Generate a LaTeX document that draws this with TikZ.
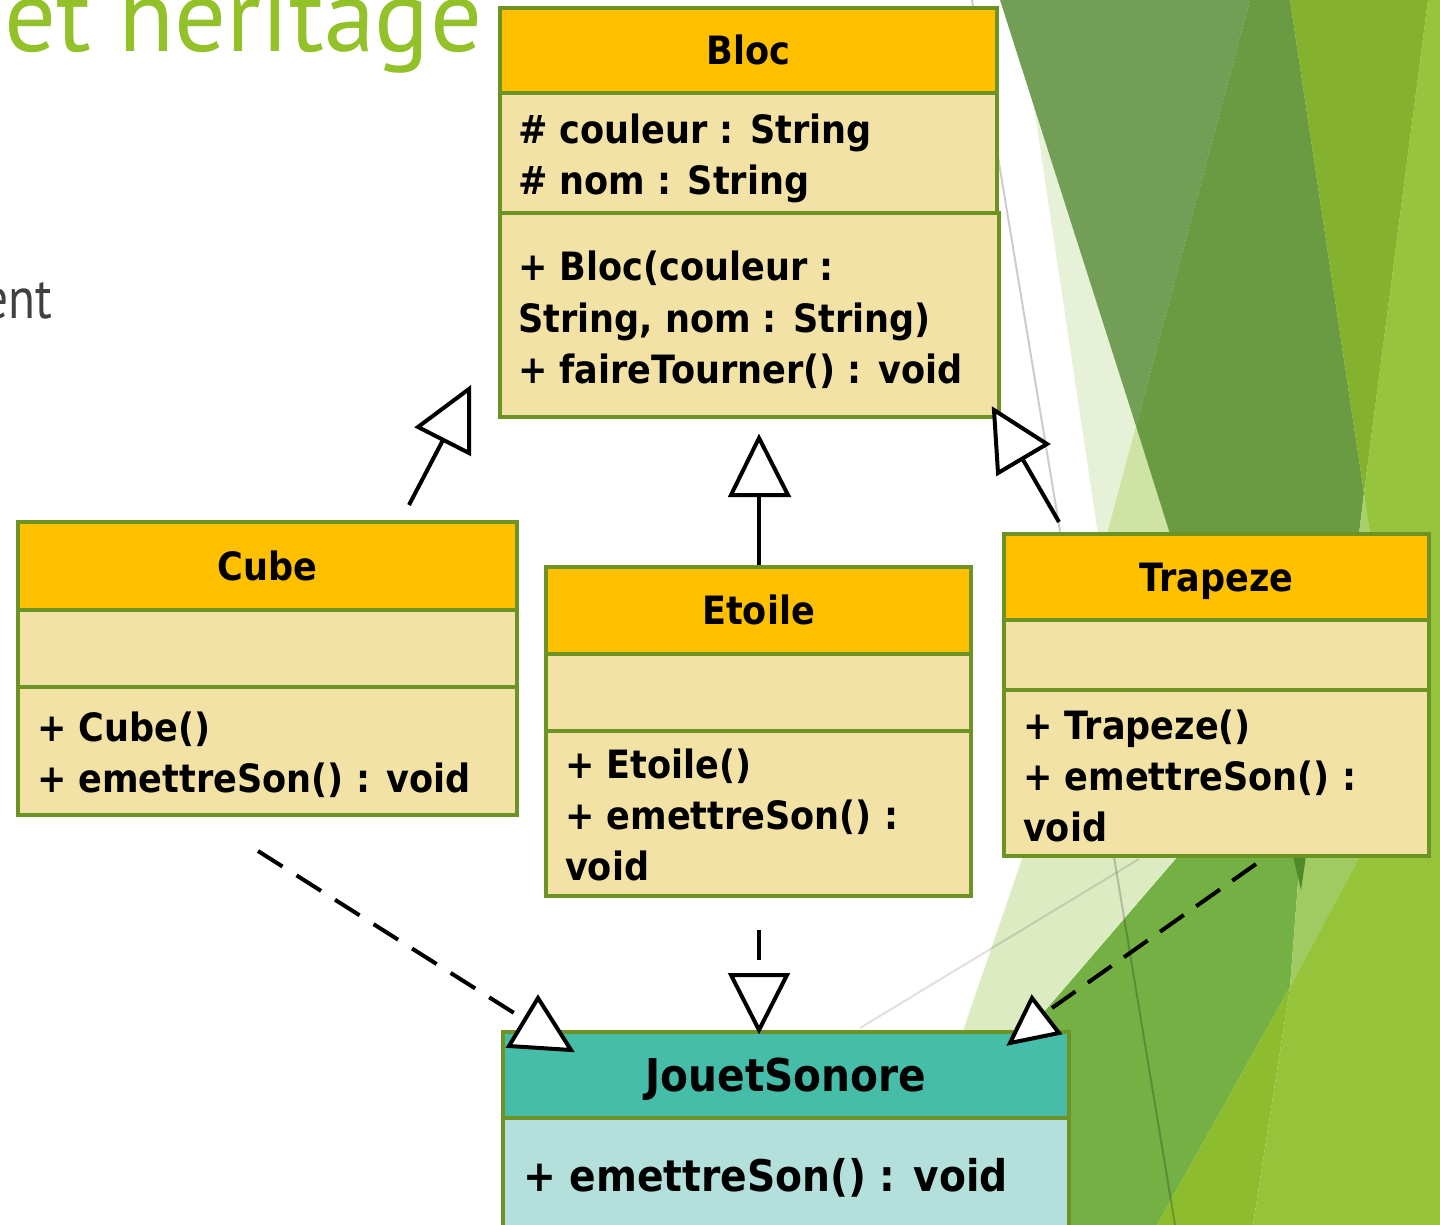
\documentclass[tikz,border=0pt]{standalone}
\usepackage{fontspec}
\newfontfamily\umlfont[FakeStretch=0.9]{DejaVu Sans}
\newfontfamily\titlefont{PT Sans}
\newfontfamily\entfont[FakeStretch=0.85]{PT Sans}
\newcommand\umltext{\umlfont\bfseries\fontsize{19.5pt}{25.5pt}\selectfont}
\newcommand\umlbig{\umlfont\bfseries\fontsize{22.6pt}{27pt}\selectfont}
\newcommand\umlbody{\umlfont\bfseries\fontsize{21.8pt}{27pt}\selectfont}
\definecolor{umlborder}{HTML}{6C9323}
\definecolor{gold}{HTML}{FFC000}
\definecolor{cream}{HTML}{F3E2A6}
\definecolor{teal}{HTML}{45BDA8}
\definecolor{lteal}{HTML}{B3E0DA}
\definecolor{titlegreen}{HTML}{92C129}
\definecolor{bodygray}{HTML}{404040}
\definecolor{bgC}{HTML}{E7F1D7}
\definecolor{bgA}{HTML}{739E55}
\definecolor{bgBC}{HTML}{CFE3A4}
\definecolor{bgAB}{HTML}{6A9A42}
\definecolor{bgD}{HTML}{84B22F}
\definecolor{bgX}{HTML}{A8D06A}
\definecolor{bgE}{HTML}{96C43C}
\definecolor{bgM}{HTML}{74B043}
\definecolor{bgL}{HTML}{DDEBC3}
\definecolor{bgN}{HTML}{A0CB62}
\definecolor{bgW}{HTML}{4E8A2A}
\definecolor{bgY1}{HTML}{8DBD2E}
\definecolor{bgY2}{HTML}{95C43A}
\tikzset{
  hdr/.style={draw=umlborder, line width=2pt, fill=gold, anchor=north west, inner sep=0pt, outer sep=0pt, font=\umltext, text height=14pt, text depth=0pt},
  cmp/.style={draw=umlborder, line width=2pt, fill=cream, anchor=north west, inner sep=0pt, outer sep=0pt},
  ln/.style={anchor=base west, inner sep=0pt, outer sep=0pt, font=\umltext},
  genline/.style={line width=2pt},
  realline/.style={line width=2pt, dash pattern=on 14.5pt off 7.6pt},
  tri/.style={draw=black, fill=white, line width=2pt, line join=miter},
  hair/.style={draw=black, opacity=0.2, line width=1pt}
}
\begin{document}
\begin{tikzpicture}[x=0.5pt,y=-0.5pt]
\useasboundingbox (0,0) rectangle (1440,1225);
\clip (0,0) rectangle (1440,1225);
\fill[white] (0,0) rectangle (1440,1225);
% background facets (top right)
\fill[bgC] (1018,0) -- (1440,0) -- (1440,534) -- (1098,534) -- cycle;
\fill[bgA] (1000,0) -- (1250,0) -- (1136,426) -- cycle;
\fill[bgBC] (1136,426) -- (1107,534) -- (1170,534) -- cycle;
\fill[bgAB] (1250,0) -- (1290,0) -- (1364,493) -- (1359,534) -- (1170,534) -- (1136,426) -- cycle;
\fill[bgD] (1290,0) -- (1428,0) -- (1364,493) -- cycle;
\fill[bgX] (1364,493) -- (1359,534) -- (1370,534) -- cycle;
\fill[bgE] (1428,0) -- (1440,0) -- (1440,534) -- (1370,534) -- (1364,493) -- cycle;
\fill[bgE] (1420,534) rectangle (1440,860);
% background facets (bottom right)
\fill[bgM] (1178,856) -- (1300,856) -- (1290,987) -- (1157,1225) -- (860,1225) -- (920,1156) -- cycle;
\fill[bgL] (1023,856) -- (1178,856) -- (920,1156) -- cycle;
\fill[bgN] (1300,856) -- (1360,856) -- (1290,987) -- cycle;
\fill[bgW] (1293,856) -- (1306,856) -- (1301,890) -- cycle;
\fill[bgY1] (1290,987) -- (1253,1225) -- (1157,1225) -- cycle;
\fill[bgY2] (1360,856) -- (1440,856) -- (1440,1225) -- (1253,1225) -- (1290,987) -- cycle;
\draw[hair] (972,0) -- (1175,1225);
\draw[hair, opacity=0.12] (860,1028) -- (1139,859);
% slide text
\node[anchor=base west, inner sep=0pt, text=titlegreen, font=\titlefont\fontsize{51.3pt}{60pt}\selectfont] (title) at (4,52) {et heritage};
\node[anchor=base east, inner sep=0pt, text=bodygray, font=\entfont\fontsize{29pt}{36pt}\selectfont] (ent) at (53,318) {ent};
% Bloc
\node[hdr, minimum width=248.5pt, minimum height=42.5pt] (bloc) at (500,8) {Bloc};
\node[cmp, minimum width=248.5pt, minimum height=60pt] (blocA) at (500,93) {};
\node[cmp, minimum width=249.5pt, minimum height=102pt] (blocM) at (500,213) {};
\node[ln] (blocA1) at (518,144) {\# couleur : String};
\node[ln] (blocA2) at (518,195) {\# nom : String};
\node[ln] (blocM1) at (518,280) {+ Bloc(couleur :};
\node[ln] (blocM2) at (518,332) {String, nom : String)};
\node[ln] (blocM3) at (518,383) {+ faireTourner() : void};
% Cube
\node[hdr, minimum width=249.5pt, minimum height=44pt] (cube) at (18,522) {Cube};
\node[cmp, minimum width=249.5pt, minimum height=38.5pt] (cubeA) at (18,610) {};
\node[cmp, minimum width=249.5pt, minimum height=64pt] (cubeM) at (18,687) {};
\node[ln] (cubeM1) at (37,741) {+ Cube()};
\node[ln] (cubeM2) at (37,792) {+ emettreSon() : void};
% Etoile
\node[hdr, minimum width=212.5pt, minimum height=43.5pt] (etoile) at (546,567) {Etoile};
\node[cmp, minimum width=212.5pt, minimum height=38.5pt] (etoileA) at (546,654) {};
\node[cmp, minimum width=212.5pt, minimum height=82.5pt] (etoileM) at (546,731) {};
\node[ln] (etoileM1) at (565,778) {+ Etoile()};
\node[ln] (etoileM2) at (565,829) {+ emettreSon() :};
\node[ln] (etoileM3) at (565,880) {void};
% Trapeze
\node[hdr, minimum width=212.5pt, minimum height=43pt] (trapeze) at (1004,534) {Trapeze};
\node[cmp, minimum width=212.5pt, minimum height=35pt] (trapezeA) at (1004,620) {};
\node[cmp, minimum width=212.5pt, minimum height=83pt] (trapezeM) at (1004,690) {};
\node[ln] (trapezeM1) at (1023,739) {+ Trapeze()};
\node[ln] (trapezeM2) at (1023,790) {+ emettreSon() :};
\node[ln] (trapezeM3) at (1023,841) {void};
% JouetSonore
\node[hdr, fill=teal, font=\umlbig, text height=16.4pt, minimum width=283pt, minimum height=43pt] (jouet) at (503,1032) {JouetSonore};
\node[cmp, fill=lteal, minimum width=283pt, minimum height=70pt] (jouetM) at (503,1118) {};
\node[ln, font=\umlbody] (jouetM1) at (523,1191) {+ emettreSon() : void};
% inheritance connectors (hollow triangle heads)
\coordinate (cubeT) at (409,505);
\coordinate (cubeB) at (443,440);
\draw[genline] (cubeT) -- (cubeB);
\draw[tri] (469,389) -- (418,427) -- (469,453) -- cycle;
\coordinate (etoileT) at (759,565);
\coordinate (etoileB) at (759,495);
\draw[genline] (etoileT) -- (etoileB);
\draw[tri] (759,438) -- (731,495) -- (788,495) -- cycle;
\coordinate (trapT) at (1059,522);
\coordinate (trapB) at (1022,458);
\draw[genline] (trapT) -- (trapB);
\draw[tri] (994,410) -- (1047,444) -- (998,473) -- cycle;
% realisation connectors
\coordinate (cubeR) at (258,851);
\coordinate (cubeRE) at (514,1013);
\draw[realline, dash pattern=on 14.5pt off 8.3pt] (cubeR) -- (cubeRE);
\draw[tri] (538,998) -- (509,1046) -- (571,1050) -- cycle;
\coordinate (etoileR) at (759,930);
\coordinate (etoileRE) at (759,960);
\draw[genline] (etoileR) -- (etoileRE);
\draw[tri] (759,1030) -- (731,975) -- (787,975) -- cycle;
\coordinate (trapR) at (1256,864);
\coordinate (trapRE) at (1052,1008);
\draw[realline] (trapR) -- (trapRE);
\draw[tri] (1032,998) -- (1010,1043) -- (1059,1033) -- cycle;
\end{tikzpicture}
\end{document}
